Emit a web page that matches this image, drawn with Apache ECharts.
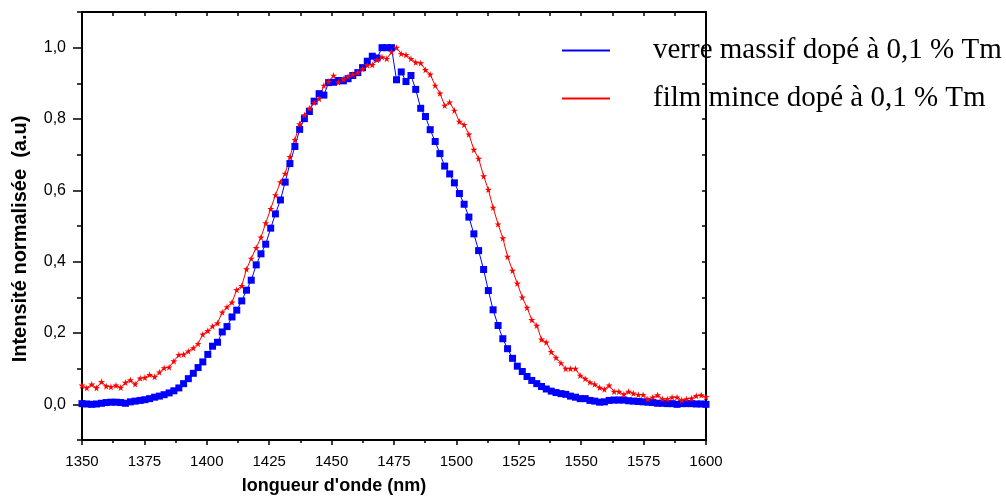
<!DOCTYPE html>
<html>
<head>
<meta charset="utf-8">
<script src="https://cdn.jsdelivr.net/npm/echarts@6/dist/echarts.min.js"></script>
<style>
  html, body { margin: 0; padding: 0; background: #fff; }
  #chart { width: 1006px; height: 499px; }
</style>
</head>
<body>
<div id="chart"></div>
<script>
// Wavelength samples (nm)
const wavelengths = [
  1350.0,1351.9,1353.9,1355.8,1357.8,1359.7,1361.6,1363.6,1365.5,1367.4,
  1369.4,1371.3,1373.3,1375.2,1377.1,1379.1,1381.0,1382.9,1384.9,1386.8,
  1388.8,1390.7,1392.6,1394.6,1396.5,1398.4,1400.4,1402.3,1404.3,1406.2,
  1408.1,1410.1,1412.0,1414.0,1415.9,1417.8,1419.8,1421.7,1423.6,1425.6,
  1427.5,1429.5,1431.4,1433.3,1435.3,1437.2,1439.1,1441.1,1443.0,1445.0,
  1446.9,1448.8,1450.8,1452.7,1454.7,1456.6,1458.5,1460.5,1462.4,1464.3,
  1466.3,1468.2,1470.2,1472.1,1474.0,1476.0,1477.9,1479.8,1481.8,1483.7,
  1485.7,1487.6,1489.5,1491.5,1493.4,1495.3,1497.3,1499.2,1501.2,1503.1,
  1505.0,1507.0,1508.9,1510.9,1512.8,1514.7,1516.7,1518.6,1520.5,1522.5,
  1524.4,1526.4,1528.3,1530.2,1532.2,1534.1,1536.0,1538.0,1539.9,1541.9,
  1543.8,1545.7,1547.7,1549.6,1551.6,1553.5,1555.4,1557.4,1559.3,1561.2,
  1563.2,1565.1,1567.1,1569.0,1570.9,1572.9,1574.8,1576.7,1578.7,1580.6,
  1582.6,1584.5,1586.4,1588.4,1590.3,1592.2,1594.2,1596.1,1598.1,1600.0
];

// verre massif dopé à 0,1 % Tm (blue squares)
const massif = [
  0.002,0.001,0.000,0.001,0.003,0.005,0.006,0.006,0.005,0.003,
  0.007,0.009,0.011,0.013,0.016,0.020,0.023,0.027,0.032,0.038,
  0.046,0.058,0.072,0.087,0.103,0.119,0.140,0.163,0.174,0.203,
  0.218,0.245,0.264,0.290,0.320,0.348,0.391,0.422,0.449,0.494,
  0.534,0.573,0.623,0.675,0.723,0.771,0.801,0.821,0.850,0.871,
  0.867,0.902,0.903,0.908,0.907,0.913,0.922,0.930,0.944,0.962,
  0.976,0.971,1.000,1.000,1.000,0.910,0.932,0.905,0.922,0.883,
  0.830,0.807,0.770,0.737,0.703,0.668,0.646,0.621,0.591,0.561,
  0.525,0.478,0.431,0.378,0.319,0.265,0.221,0.184,0.156,0.129,
  0.107,0.092,0.078,0.067,0.058,0.050,0.043,0.037,0.033,0.030,
  0.028,0.023,0.020,0.016,0.016,0.011,0.009,0.006,0.007,0.011,
  0.012,0.012,0.012,0.010,0.009,0.008,0.007,0.006,0.005,0.003,
  0.003,0.002,0.002,0.000,0.002,0.002,0.002,0.001,0.001,0.000
];

// film mince dopé à 0,1 % Tm (red stars)
const film = [
  0.053,0.046,0.056,0.046,0.063,0.051,0.049,0.053,0.047,0.061,
  0.068,0.057,0.073,0.075,0.083,0.077,0.090,0.102,0.104,0.121,
  0.139,0.140,0.149,0.158,0.170,0.196,0.206,0.219,0.228,0.258,
  0.273,0.286,0.321,0.332,0.379,0.409,0.439,0.468,0.508,0.548,
  0.587,0.623,0.647,0.694,0.742,0.786,0.811,0.830,0.846,0.857,
  0.894,0.905,0.922,0.903,0.912,0.919,0.925,0.931,0.940,0.951,
  0.952,0.966,0.974,0.969,0.988,1.000,0.983,0.980,0.969,0.959,
  0.957,0.938,0.925,0.894,0.872,0.838,0.847,0.824,0.793,0.784,
  0.757,0.714,0.689,0.640,0.602,0.552,0.505,0.466,0.414,0.375,
  0.339,0.300,0.271,0.237,0.221,0.182,0.174,0.147,0.131,0.116,
  0.100,0.100,0.100,0.081,0.072,0.062,0.056,0.047,0.042,0.053,
  0.036,0.036,0.028,0.036,0.031,0.027,0.027,0.015,0.020,0.026,
  0.015,0.015,0.020,0.020,0.012,0.015,0.017,0.024,0.026,0.021
];

const seriesNames = ['verre massif dopé à 0,1 % Tm', 'film mince dopé à 0,1 % Tm'];
const yMajorTicks = [0, 0.2, 0.4, 0.6, 0.8, 1.0];
const xTitle = "longueur d'onde (nm)";
const yTitle = 'Intensité normalisée  (a.u)';

const LABEL_FONT = "'Liberation Sans', Arial, sans-serif";
const STAR = 'path://M50,0 L61,35 L98,35 L68,57 L79,91 L50,70 L21,91 L32,57 L2,35 L39,35 Z';

const chart = echarts.init(document.getElementById('chart'), null, { renderer: 'canvas' });

const axisLineStyle = { color: '#000', width: 2 };
const tickLineStyle = { color: '#000', width: 1.5 };

chart.setOption({
  animation: false,
  backgroundColor: '#fff',
  grid: { left: 82, right: 300, top: 12, bottom: 59 },
  legend: {
    orient: 'vertical',
    left: 557,
    top: 31,
    itemWidth: 48,
    itemHeight: 2,
    itemGap: 19,
    icon: 'rect',
    textStyle: {
      fontFamily: "'Liberation Serif', 'Times New Roman', serif",
      fontSize: 29,
      color: '#000',
      padding: [6, 0, 0, 38]
    },
    data: seriesNames
  },
  xAxis: [
    {
      type: 'value', min: 1350, max: 1600, interval: 25, position: 'bottom',
      axisLine: { show: true, onZero: false, lineStyle: axisLineStyle },
      axisTick: { show: true, length: 5, lineStyle: tickLineStyle },
      minorTick: { show: true, splitNumber: 2, length: 3, lineStyle: tickLineStyle },
      axisLabel: { margin: 14, color: '#000', fontSize: 15, fontFamily: LABEL_FONT,
        formatter: v => String(v) },
      splitLine: { show: false }
    },
    {
      type: 'value', min: 1350, max: 1600, interval: 12.5, position: 'top',
      axisLine: { show: true, onZero: false, lineStyle: axisLineStyle },
      axisTick: { show: true, inside: true, length: 4, lineStyle: tickLineStyle },
      axisLabel: { show: false },
      splitLine: { show: false }
    }
  ],
  yAxis: [
    {
      type: 'value', min: -0.1, max: 1.1, interval: 0.1, position: 'left',
      axisLine: { show: true, onZero: false, lineStyle: axisLineStyle },
      axisTick: { show: true, length: 5, lineStyle: tickLineStyle },
      axisLabel: {
        customValues: yMajorTicks,
        margin: 16, color: '#000', fontSize: 16, fontFamily: LABEL_FONT,
        formatter: v => v.toFixed(1).replace('.', ',')
      },
      splitLine: { show: false }
    },
    {
      type: 'value', min: -0.1, max: 1.1, position: 'left',
      axisLine: { show: false, onZero: false },
      axisTick: { show: true, length: 9, customValues: yMajorTicks, lineStyle: tickLineStyle },
      axisLabel: { show: false },
      splitLine: { show: false }
    },
    {
      type: 'value', min: -0.1, max: 1.1, interval: 0.1, position: 'right',
      axisLine: { show: true, onZero: false, lineStyle: axisLineStyle },
      axisTick: { show: true, inside: true, length: 4, lineStyle: tickLineStyle },
      axisLabel: { show: false },
      splitLine: { show: false }
    }
  ],
  graphic: [
    {
      type: 'text', x: 334, y: 486,
      style: {
        text: xTitle, fill: '#000', font: "bold 18px 'Liberation Sans', Arial, sans-serif",
        textAlign: 'center', textVerticalAlign: 'middle'
      }
    },
    {
      type: 'text', x: 20, y: 239, rotation: Math.PI / 2,
      style: {
        text: yTitle, fill: '#000', font: "bold 20px 'Liberation Sans', Arial, sans-serif",
        textAlign: 'center', textVerticalAlign: 'middle'
      }
    }
  ],
  series: [
    {
      name: seriesNames[0], type: 'line', xAxisIndex: 0, yAxisIndex: 0,
      data: wavelengths.map((w, i) => [w, massif[i]]),
      symbol: 'rect', symbolSize: 7, showAllSymbol: true,
      lineStyle: { color: '#0000ff', width: 1 },
      itemStyle: { color: '#0000ff' },
      emphasis: { disabled: true }
    },
    {
      name: seriesNames[1], type: 'line', xAxisIndex: 0, yAxisIndex: 0,
      data: wavelengths.map((w, i) => [w, film[i]]),
      symbol: STAR, symbolSize: 7, showAllSymbol: true,
      lineStyle: { color: '#ff0000', width: 1 },
      itemStyle: { color: '#ff0000' },
      emphasis: { disabled: true }
    }
  ]
});
</script>
</body>
</html>
